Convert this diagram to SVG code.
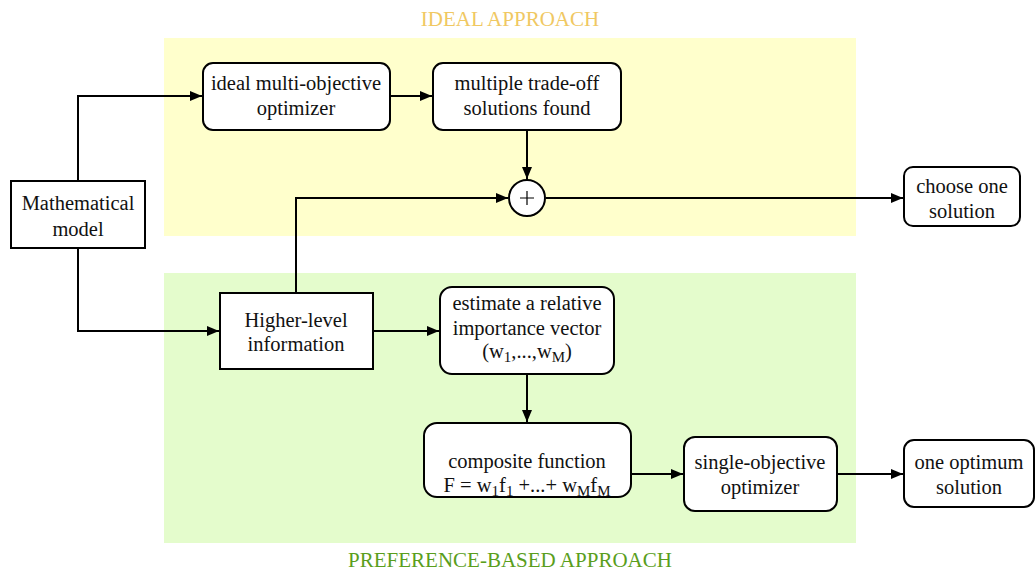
<svg xmlns="http://www.w3.org/2000/svg" width="1035" height="577" viewBox="0 0 1035 577" font-family="'Liberation Serif', 'DejaVu Serif', serif">
<style>
text{font-family:'Liberation Serif','DejaVu Serif',serif;font-size:20.5px;fill:#111;text-anchor:middle}
tspan{font-family:'Liberation Serif','DejaVu Serif',serif}
.node{fill:#fff;stroke:#000;stroke-width:2}
.edge{fill:none;stroke:#000;stroke-width:2}
.title-y{fill:#f0c862;font-size:21px}
.title-g{fill:#5a9e1c;font-size:21px}
.sub{font-size:15px}
</style>
<defs>
<marker id="arr" viewBox="0 0 12 10" refX="12" refY="5" markerWidth="12" markerHeight="10" markerUnits="userSpaceOnUse" orient="auto">
<path d="M0,0 L12,5 L0,10 z" fill="#000"/>
</marker>
</defs>
<g id="panels">
<rect x="164" y="38" width="692" height="198" fill="#ffffcc"/>
<rect x="164" y="273" width="692" height="270" fill="#e4fccc"/>
<text class="title-y" x="510" y="26">IDEAL APPROACH</text>
<text class="title-g" x="510" y="567">PREFERENCE-BASED APPROACH</text>
</g>
<g id="connectors">
<path class="edge" d="M78,181 V96 H202" marker-end="url(#arr)"/>
<path class="edge" d="M390,96 H432" marker-end="url(#arr)"/>
<path class="edge" d="M527,130 V179" marker-end="url(#arr)"/>
<path class="edge" d="M296,293 V198 H508" marker-end="url(#arr)"/>
<path class="edge" d="M546,198 H903" marker-end="url(#arr)"/>
<path class="edge" d="M78,248 V331 H219" marker-end="url(#arr)"/>
<path class="edge" d="M373,331 H439" marker-end="url(#arr)"/>
<path class="edge" d="M527,374 V422" marker-end="url(#arr)"/>
<path class="edge" d="M631,474 H683" marker-end="url(#arr)"/>
<path class="edge" d="M837,474 H903" marker-end="url(#arr)"/>
</g>
<g id="math-model">
<rect class="node" x="11" y="181" width="134" height="67"/>
<text x="78" y="210">Mathematical</text>
<text x="78" y="236">model</text>
</g>
<g id="ideal-optimizer">
<rect class="node" x="203" y="63" width="187" height="67" rx="10"/>
<text x="296" y="90">ideal multi-objective</text>
<text x="296" y="115">optimizer</text>
</g>
<g id="tradeoff-solutions">
<rect class="node" x="433" y="63" width="188" height="67" rx="10"/>
<text x="527" y="90">multiple trade-off</text>
<text x="527" y="115">solutions found</text>
</g>
<g id="combine">
<circle class="node" cx="527" cy="198" r="18"/>
<path d="M520,198 H534 M527,191 V205" stroke="#000" stroke-width="1.2"/>
</g>
<g id="choose-one">
<rect class="node" x="904" y="167" width="116" height="59" rx="9"/>
<text x="962" y="193">choose one</text>
<text x="962" y="218">solution</text>
</g>
<g id="higher-level">
<rect class="node" x="220" y="293" width="153" height="76"/>
<text x="296" y="327">Higher-level</text>
<text x="296" y="351">information</text>
</g>
<g id="estimate">
<rect class="node" x="440" y="287" width="174" height="87" rx="12"/>
<text x="527" y="310">estimate a relative</text>
<text x="527" y="335">importance vector</text>
<text x="527" y="358">(w<tspan class="sub" dy="4">1</tspan><tspan dy="-4">,...,w</tspan><tspan class="sub" dy="4">M</tspan><tspan dy="-4">)</tspan></text>
</g>
<g id="composite">
<rect class="node" x="424" y="423" width="207" height="74" rx="13"/>
<text x="527" y="468">composite function</text>
<text x="527" y="492">F = w<tspan class="sub" dy="4">1</tspan><tspan dy="-4">f</tspan><tspan class="sub" dy="4">1</tspan><tspan dy="-4"> +...+ w</tspan><tspan class="sub" dy="4">M</tspan><tspan dy="-4">f</tspan><tspan class="sub" dy="4">M</tspan></text>
</g>
<g id="single-optimizer">
<rect class="node" x="684" y="437" width="153" height="74" rx="11"/>
<text x="760" y="469">single-objective</text>
<text x="760" y="494">optimizer</text>
</g>
<g id="one-optimum">
<rect class="node" x="904" y="440" width="130" height="67" rx="10"/>
<text x="969" y="469">one optimum</text>
<text x="969" y="494">solution</text>
</g>
</svg>
